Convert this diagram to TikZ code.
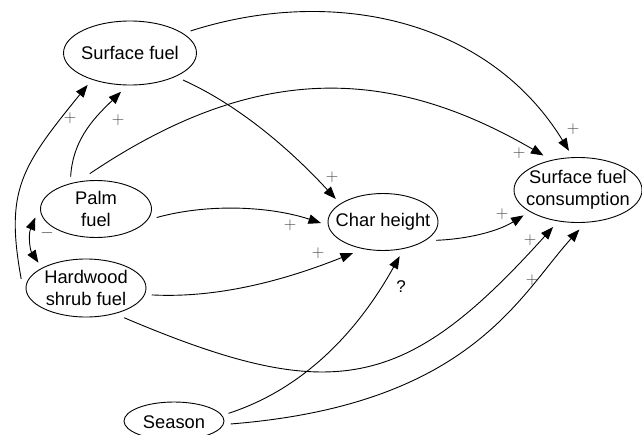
\documentclass[tikz,border=0pt]{standalone}
\usepackage{fontspec}
\setmainfont{Liberation Sans}
\usetikzlibrary{arrows.meta,shapes.geometric}
\begin{document}
\begin{tikzpicture}[x=1pt,y=-1pt,
  ell/.style={draw, ellipse, inner sep=0pt, outer sep=7pt, line width=0.9pt},
  lbl/.style={font=\fontsize{18.3}{22}\selectfont, align=center, inner sep=0pt},
  arr/.style={-{Triangle[length=12.5pt,width=9.5pt]}, line width=0.9pt},
  darr/.style={{Triangle[length=12.5pt,width=9.5pt]}-{Triangle[length=12.5pt,width=9.5pt]}, line width=0.9pt},
  sgn/.style={text=black!72, font=\fontsize{17}{17}\selectfont, inner sep=0pt},
  qm/.style={text=black, font=\fontsize{17}{17}\selectfont, inner sep=0pt}
]
\useasboundingbox[fill=white] (0,0) rectangle (642,434);

% nodes
\node[ell, minimum width=133pt, minimum height=64pt] (sf) at (130,53) {};
\node[lbl] (sft) at (130,53) {Surface fuel};
\node[ell, minimum width=111pt, minimum height=57pt] (palm) at (96,209) {};
\node[lbl] (palmt) at (96,209) {Palm\\fuel};
\node[ell, minimum width=120pt, minimum height=58pt] (hw) at (86,288) {};
\node[lbl] (hwt) at (86,288) {Hardwood\\shrub fuel};
\node[ell, minimum width=100pt, minimum height=38pt] (season) at (174,421) {};
\node[lbl] (seasont) at (174,422) {Season};
\node[ell, minimum width=110pt, minimum height=57pt] (ch) at (383,222) {};
\node[lbl] (cht) at (383,222) {Char height};
\node[ell, minimum width=128pt, minimum height=65pt] (sfc) at (578,190) {};
\node[lbl] (sfct) at (578,190) {Surface fuel\\consumption};

% connectors
\draw[arr] (sf.20.4) .. controls (334,-15) and (489,20) .. (sfc.103.7);
\draw[arr] (sf.-27.8) .. controls (247,109) and (300,160) .. (ch.154.8);
\draw[arr] (palm.100.6) .. controls (254,63) and (388,65) .. (sfc.135);
\draw[arr] (palm.128) .. controls (73,137) and (97.5,115) .. (sf.-103.4);
\draw[arr] (hw.172.6) .. controls (5,190) and (21,167) .. (sf.-143.3);
\draw[darr] (palm.188.1) .. controls (28,235) and (30,250) .. (hw.152);
\draw[arr] (palm.-8.4) .. controls (209,203) and (271,206.5) .. (ch.181);
\draw[arr] (hw.-6.1) .. controls (220,298.5) and (288,279) .. (ch.226.8);
\draw[arr] (hw.-38.9) .. controls (333.6,406.7) and (405.6,390.8) .. (sfc.236.7);
\draw[arr] (season.8.6) .. controls (322,383) and (372.5,305) .. (ch.-64.1);
\draw[arr] (season.-3.1) .. controls (470,405) and (519,296) .. (sfc.-88.6);
\draw[arr] (ch.-19.1) .. controls (469,239) and (498.5,231) .. (sfc.205.3);

% signs
\node[sgn] (p1) at (573,129) {$+$};
\node[sgn] (p2) at (332,177) {$+$};
\node[sgn] (p3) at (519,153) {$+$};
\node[sgn] (p4) at (118,120) {$+$};
\node[sgn] (p5) at (70,118) {$+$};
\node[sgn] (m1) at (47,233) {$-$};
\node[sgn] (p6) at (290,225) {$+$};
\node[sgn] (p7) at (318,253) {$+$};
\node[sgn] (p8) at (530,240) {$+$};
\node[qm] (q1) at (401,287) {?};
\node[sgn] (p9) at (532,280) {$+$};
\node[sgn] (p10) at (502,214) {$+$};
\end{tikzpicture}
\end{document}
